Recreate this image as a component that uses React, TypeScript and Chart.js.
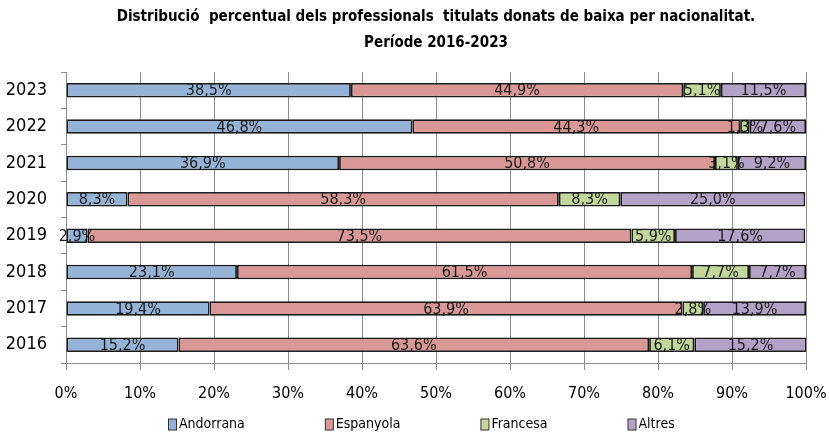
import React, { useEffect, useRef } from 'react';
import { Chart, registerables } from 'chart.js';

Chart.register(...registerables);

const years = ['2023', '2022', '2021', '2020', '2019', '2018', '2017', '2016'];
const andorrana = [38.5, 46.8, 36.9, 8.3, 2.9, 23.1, 19.4, 15.2];
const espanyola = [44.9, 44.3, 50.8, 58.3, 73.5, 61.5, 63.9, 63.6];
const francesa = [5.1, 1.3, 3.1, 8.3, 5.9, 7.7, 2.8, 6.1];
const altres = [11.5, 7.6, 9.2, 25.0, 17.6, 7.7, 13.9, 15.2];
const seriesNames = ['Andorrana', 'Espanyola', 'Francesa', 'Altres'];
const seriesColors = ['#95B3D7', '#D99795', '#C4D79B', '#B3A2C7'];
const titleLines = [
  'Distribució  percentual dels professionals  titulats donats de baixa per nacionalitat.',
  'Període 2016-2023',
];

const FONT = '"Liberation Sans Narrow", "DejaVu Sans Condensed", sans-serif';

const fmt = (v: number) => v.toFixed(1).replace('.', ',') + '%';

const labelsPlugin = {
  id: 'segLabels',
  afterDatasetsDraw(chart: any) {
    const ctx = chart.ctx;
    ctx.save();
    ctx.font = `16px ${FONT}`;
    ctx.fillStyle = '#1a1a1a';
    ctx.textAlign = 'center';
    ctx.textBaseline = 'middle';
    chart.data.datasets.forEach((ds: any, di: number) => {
      const meta = chart.getDatasetMeta(di);
      meta.data.forEach((el: any, i: number) => {
        const v = ds.data[i];
        const cx = (el.x + el.base) / 2;
        ctx.fillText(fmt(v), cx, el.y + 1);
      });
    });
    ctx.restore();
  },
};

const titleLegendPlugin = {
  id: 'titleLegend',
  afterDraw(chart: any) {
    const ctx = chart.ctx;
    const ca = chart.chartArea;
    ctx.save();
    // title
    ctx.font = `bold 15px ${FONT}`;
    ctx.fillStyle = '#000';
    ctx.textAlign = 'center';
    ctx.textBaseline = 'middle';
    const tx = (ca.left + ca.right) / 2;
    ctx.fillText(titleLines[0], tx, 17);
    ctx.fillText(titleLines[1], tx, 43);
    // legend
    ctx.font = `14px ${FONT}`;
    ctx.textAlign = 'left';
    const boxW = 8;
    const boxH = 11;
    const gap = 3;
    const pad = 80;
    const items = chart.data.datasets.map((ds: any) => ({
      label: ds.label,
      color: ds.backgroundColor,
      w: ctx.measureText(ds.label).width,
    }));
    let total = 0;
    items.forEach((it: any, i: number) => {
      total += boxW + gap + it.w + (i < items.length - 1 ? pad : 0);
    });
    let x = Math.round(chart.width / 2 + 7 - total / 2);
    const y = 424;
    items.forEach((it: any) => {
      ctx.fillStyle = it.color;
      ctx.fillRect(x + 0.5, y - boxH / 2 + 0.5, boxW, boxH);
      ctx.strokeStyle = '#333';
      ctx.lineWidth = 1;
      ctx.strokeRect(x + 0.5, y - boxH / 2 + 0.5, boxW, boxH);
      ctx.fillStyle = '#000';
      ctx.fillText(it.label, x + boxW + gap, y);
      x += boxW + gap + it.w + pad;
    });
    ctx.restore();
  },
};

export default function App() {
  const ref = useRef<HTMLCanvasElement | null>(null);
  useEffect(() => {
    document.body.style.margin = '0';
    const canvas = ref.current!;
    const series = [andorrana, espanyola, francesa, altres];
    const chart = new Chart(canvas, {
      type: 'bar',
      data: {
        labels: years,
        datasets: series.map((d, i) => ({
          label: seriesNames[i],
          data: d,
          backgroundColor: seriesColors[i],
          borderColor: '#1a1a1a',
          borderWidth: 1.8,
          borderSkipped: false,
          barPercentage: 0.4,
          categoryPercentage: 1,
        })),
      },
      options: {
        indexAxis: 'y',
        responsive: false,
        animation: false,
        layout: { padding: { top: 72, right: 23, left: 0, bottom: 0 } },
        plugins: {
          legend: { display: false },
          title: { display: false },
          tooltip: { enabled: false },
        },
        scales: {
          x: {
            stacked: true,
            min: 0,
            max: 100,
            ticks: {
              stepSize: 10,
              color: '#000',
              font: { family: FONT, size: 16 },
              padding: 14,
              callback: (v: any) => v + '%',
            },
            grid: { color: '#8c8c8c', lineWidth: 1, tickLength: 7 },
            border: { color: '#8c8c8c' },
            afterFit: (s: any) => {
              s.height = 76;
              s.paddingLeft = 0;
              s.paddingRight = 0;
            },
          },
          y: {
            stacked: true,
            ticks: {
              color: '#000',
              font: { family: FONT, size: 18 },
              padding: 14,
            },
            grid: { drawOnChartArea: false, tickLength: 5, color: '#8c8c8c', offset: true },
            border: { color: '#8c8c8c' },
            afterFit: (s: any) => {
              s.width = 66;
              s.paddingTop = 0;
              s.paddingBottom = 0;
            },
          },
        },
      },
      plugins: [labelsPlugin, titleLegendPlugin],
    });
    return () => chart.destroy();
  }, []);
  return (
    <div style={{ width: 829, height: 439 }}>
      <canvas ref={ref} width={829} height={439} style={{ width: 829, height: 439, display: 'block' }} />
    </div>
  );
}
